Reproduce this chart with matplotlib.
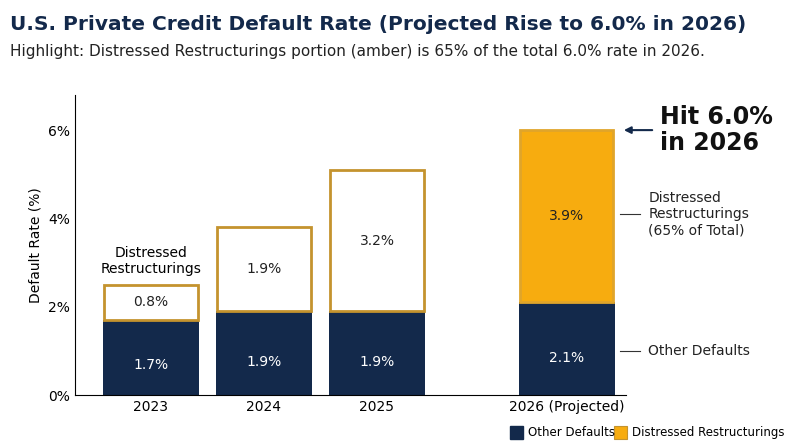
import matplotlib.pyplot as plt
from matplotlib.patches import Rectangle

years = ["2023", "2024", "2025", "2026 (Projected)"]
other = [1.7, 1.9, 1.9, 2.1]
distressed = [0.8, 1.9, 3.2, 3.9]
yticks = [0, 2, 4, 6]

navy = "#13294b"
amber = "#f7ac0f"
gold = "#c4932e"

pos = [0, 1, 2, 3.68]
fig = plt.figure(figsize=(8, 4.47), dpi=100)
ax = fig.add_axes([0.094, 0.116, 0.688, 0.671])
w = 0.85
ax.bar(pos, other, width=w, color=navy, zorder=2)
for i, (p, o, d) in enumerate(zip(pos, other, distressed)):
    last = i == len(pos) - 1
    ax.bar(p, d, bottom=o, width=w * 0.97, color=amber if last else "white",
           edgecolor="#e0a52a" if last else gold, linewidth=2, zorder=2)
    ax.text(p, o / 2 * 0.8, f"{o:.1f}%", color="white", ha="center", va="center", fontsize=10)
    ax.text(p, o + d / 2, f"{d:.1f}%", color="#222", ha="center", va="center", fontsize=10)

ax.set_xlim(-0.67, 4.2)
ax.set_ylim(0, 6.79)
ax.set_xticks(pos)
ax.set_xticklabels(years, fontsize=10)
ax.set_yticks(yticks)
ax.set_yticklabels([f"{t}%" for t in yticks], fontsize=10)
ax.set_ylabel("Default Rate (%)", fontsize=10)
for s in ["top", "right"]:
    ax.spines[s].set_visible(False)
ax.tick_params(length=0)

ax.text(pos[0], other[0] + distressed[0] + 0.2, "Distressed\nRestructurings",
        ha="center", va="bottom", fontsize=10)
ax.annotate("", xy=(pos[3] + 0.48, 6.0), xytext=(pos[3] + 0.78, 6.0),
            arrowprops=dict(arrowstyle="-|>", color=navy, lw=1.5), annotation_clip=False)
ax.text(pos[3] + 0.82, 6.0, "Hit 6.0%\nin 2026", fontsize=17, fontweight="bold",
        va="center", ha="left", color="#111", linespacing=1.1, clip_on=False)
ax.plot([pos[3] + 0.47, pos[3] + 0.65], [4.1, 4.1], color="#333", lw=0.8, clip_on=False)
ax.text(pos[3] + 0.72, 4.1, "Distressed\nRestructurings\n(65% of Total)", fontsize=10,
        va="center", ha="left", color="#222", clip_on=False)
ax.plot([pos[3] + 0.47, pos[3] + 0.65], [1.0, 1.0], color="#333", lw=0.8, clip_on=False)
ax.text(pos[3] + 0.72, 1.0, "Other Defaults", fontsize=10, va="center", ha="left",
        color="#222", clip_on=False)

fig.text(0.012, 0.925, "U.S. Private Credit Default Rate (Projected Rise to 6.0% in 2026)",
         fontsize=14.5, fontweight="bold", color=navy, va="bottom")
fig.text(0.012, 0.885, "Highlight: Distressed Restructurings portion (amber) is 65% of the total 6.0% rate in 2026.",
         fontsize=11, color="#222", va="center")

fig.patches.append(Rectangle((0.638, 0.018), 0.016, 0.028, transform=fig.transFigure, color=navy))
fig.text(0.66, 0.032, "Other Defaults", fontsize=8.5, va="center")
fig.patches.append(Rectangle((0.768, 0.018), 0.016, 0.028, transform=fig.transFigure,
                             facecolor=amber, edgecolor=gold, lw=0.8))
fig.text(0.79, 0.032, "Distressed Restructurings", fontsize=8.5, va="center")

fig.savefig("out.png", dpi=100)
